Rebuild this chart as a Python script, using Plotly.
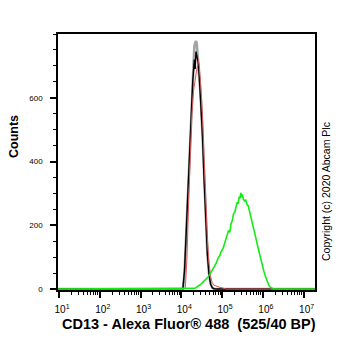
import plotly.graph_objects as go

# ---- data (x given as log10 of fluorescence intensity) ----
gray_log = [0.9, 4.00, 4.04, 4.08, 4.12, 4.16, 4.20, 4.24, 4.28, 4.32, 4.34, 4.36, 4.38, 4.40, 4.44,
            4.48, 4.52, 4.56, 4.60, 4.64, 4.68, 4.72, 4.76, 4.80, 4.90, 7.3]
gray_cnt = [0, 0, 0, 50, 170, 320, 455, 570, 680, 760, 772, 778, 770, 735, 675,
            595, 485, 345, 215, 112, 48, 16, 5, 1, 0, 0]

black_log = [0.9, 4.00, 4.04, 4.08, 4.12, 4.16, 4.20, 4.24, 4.28, 4.32, 4.34, 4.36, 4.38, 4.40, 4.44,
             4.48, 4.52, 4.56, 4.60, 4.64, 4.68, 4.72, 4.76, 4.80, 4.90, 7.3]
black_cnt = [0, 0, 2, 60, 180, 330, 460, 560, 650, 720, 690, 745, 735, 720, 670,
             590, 480, 340, 210, 110, 45, 15, 4, 1, 0, 0]

red_log = [0.9, 4.06, 4.10, 4.14, 4.18, 4.22, 4.26, 4.30, 4.34, 4.38, 4.42, 4.44, 4.48, 4.52, 4.56,
           4.60, 4.64, 4.68, 4.72, 4.76, 4.80, 4.85, 4.90, 4.95, 5.00, 5.05, 5.10, 7.3]
red_cnt = [0, 0, 5, 100, 270, 430, 550, 620, 660, 690, 718, 705, 635, 548, 410,
           270, 160, 82, 38, 20, 12, 10, 7, 5, 4, 2, 0, 0]

green_log = [0.9, 4.20, 4.30, 4.36, 4.40, 4.45, 4.50, 4.55, 4.60, 4.65, 4.70, 4.74, 4.78, 4.82, 4.86,
             4.90, 4.94, 4.98, 5.02, 5.06, 5.10, 5.13, 5.16, 5.19, 5.22, 5.25, 5.28, 5.31, 5.34,
             5.37, 5.40, 5.42, 5.44, 5.46, 5.48, 5.50, 5.52, 5.55, 5.58, 5.61, 5.64, 5.67, 5.70,
             5.74, 5.78, 5.82, 5.86, 5.90, 5.94, 5.98, 6.02, 6.06, 6.10, 6.14, 6.18, 6.22, 6.26, 7.3]
green_cnt = [0, 0, 2, 4, 7, 11, 17, 24, 30, 37, 46, 55, 62, 74, 82,
             96, 104, 118, 126, 142, 158, 166, 184, 178, 205, 214, 236, 240, 258,
             272, 268, 290, 284, 302, 288, 297, 282, 276, 280, 265, 262, 246, 238,
             214, 190, 165, 142, 120, 96, 76, 58, 42, 26, 14, 6, 2, 0, 0]

x_tick_exp = [1, 2, 3, 4, 5, 6, 7]
y_tick_vals = [0, 200, 400, 600]

fig = go.Figure()
series = [
    (gray_log, gray_cnt, "rgb(165,165,165)", 2.6),
    (black_log, black_cnt, "black", 1.4),
    (red_log, red_cnt, "rgb(215,90,90)", 1.0),
    (green_log, green_cnt, "rgb(20,235,20)", 1.6),
]
for lg, cnt, col, w in series:
    fig.add_trace(go.Scatter(x=[10 ** v for v in lg], y=cnt, mode="lines",
                             line=dict(color=col, width=w), showlegend=False,
                             hoverinfo="skip"))

minor_x = [m * 10 ** d for d in range(0, 8) for m in range(2, 10)]

fig.update_layout(
    width=362, height=351,
    margin=dict(l=58, r=47, t=34, b=61),
    paper_bgcolor="white", plot_bgcolor="white",
    font=dict(family="Arial, Liberation Sans, sans-serif", color="black"),
    xaxis=dict(
        type="log", range=[0.975, 7.28],
        tickmode="array",
        tickvals=[10 ** e for e in x_tick_exp],
        ticktext=[f"10<sup>{e}</sup>" for e in x_tick_exp],
        ticks="outside", ticklen=6, tickwidth=1.5, tickcolor="black",
        showline=True, linecolor="black", linewidth=1.5, mirror=True,
        showgrid=False, zeroline=False,
        tickfont=dict(size=10, color="black"),
        ticklabelshift=3, ticklabelstandoff=3,
        minor=dict(tickmode="array", tickvals=minor_x, ticks="outside",
                   ticklen=3, tickwidth=1, tickcolor="black", showgrid=False),
    ),
    yaxis=dict(
        range=[-3, 800],
        tickmode="array", tickvals=y_tick_vals,
        ticks="outside", ticklen=6, tickwidth=1.5, tickcolor="black",
        showline=True, linecolor="black", linewidth=1.5, mirror=True,
        showgrid=False, zeroline=False,
        tickfont=dict(size=8, color="black"),
        ticklabelstandoff=6,
        minor=dict(dtick=50, tick0=0, ticks="outside", ticklen=3, tickwidth=1,
                   tickcolor="black", showgrid=False),
    ),
    annotations=[
        dict(text="<b>Counts</b>", x=14, y=137, showarrow=False, textangle=-90,
             font=dict(size=12.5, color="black"), xanchor="center", yanchor="middle"),
        dict(text="<b>CD13 - Alexa Fluor® 488  (525/40 BP)</b>", x=189, y=324,
             showarrow=False, font=dict(size=14.5, color="black"),
             xanchor="center", yanchor="middle"),
        dict(text="Copyright (c) 2020 Abcam Plc", x=326, y=192, showarrow=False,
             textangle=-90, font=dict(size=10.5, color="black"),
             xanchor="center", yanchor="middle"),
    ],
)

# convert annotation pixel positions to paper coords
pw, ph = 362 - 58 - 47, 351 - 34 - 61
new_ann = []
for a in fig.layout.annotations:
    a = a.to_plotly_json()
    a["xref"] = "paper"; a["yref"] = "paper"
    a["x"] = (a["x"] - 58) / pw
    a["y"] = (351 - 61 - a["y"]) / ph
    new_ann.append(a)
fig.layout.annotations = new_ann

fig.write_html("out.html")
